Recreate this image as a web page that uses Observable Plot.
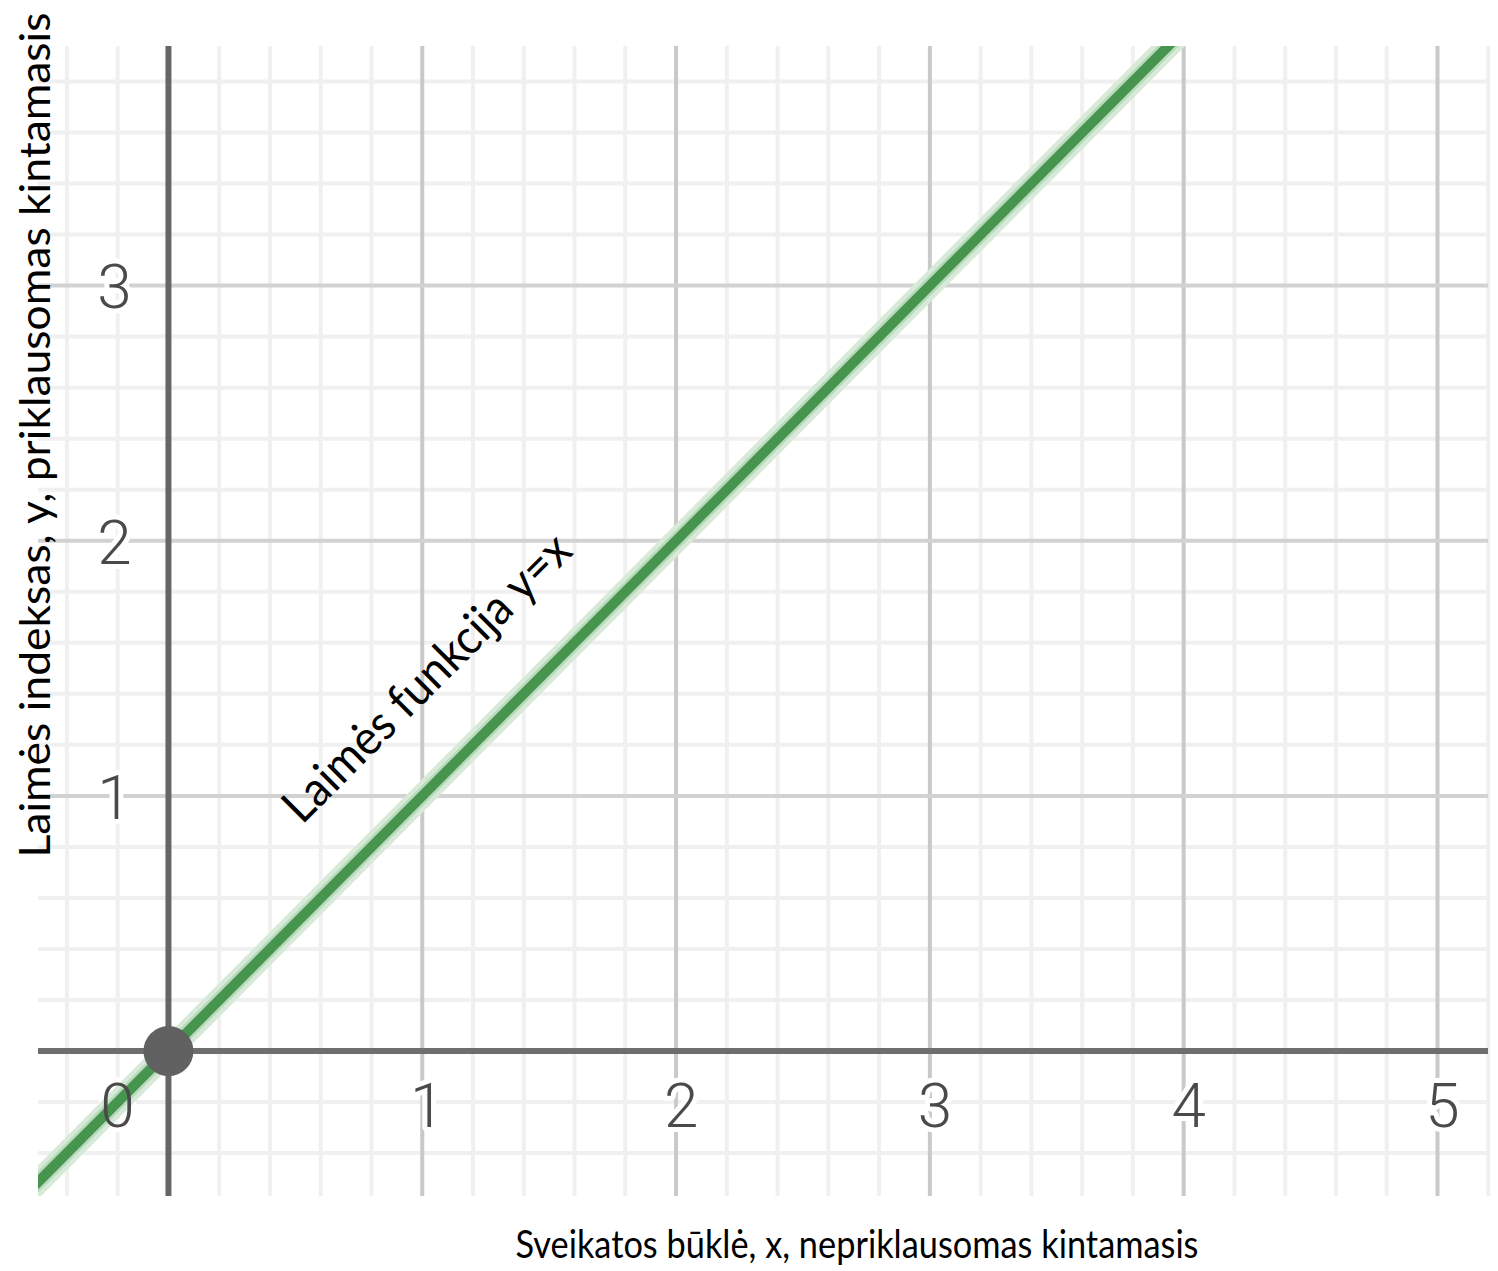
<!DOCTYPE html>
<html>
<head>
<meta charset="utf-8">
<script src="https://cdn.jsdelivr.net/npm/d3@7"></script>
<script src="https://cdn.jsdelivr.net/npm/@observablehq/plot@0.6"></script>
<style>
  html, body { margin: 0; padding: 0; background: #fff; }
  #chart svg { display: block; }
</style>
</head>
<body>
<div id="chart"></div>
<script>
// ---- data ----
const xMajor = [1, 2, 3, 4, 5];
const xMinor = [-0.4, -0.2, 0.2, 0.4, 0.6, 0.8, 1.2, 1.4, 1.6, 1.8, 2.2, 2.4, 2.6, 2.8,
                3.2, 3.4, 3.6, 3.8, 4.2, 4.4, 4.6, 4.8, 5.2];
const yMajor = [1, 2, 3];
const yMinor = [-0.4, -0.2, 0.2, 0.4, 0.6, 0.8, 1.2, 1.4, 1.6, 1.8, 2.2, 2.4, 2.6, 2.8,
                3.2, 3.4, 3.6, 3.8];
const xTickLabels = ["1", "2", "3", "4", "5"];
const yTickLabels = ["1", "2", "3"];
const originLabel = ["0"];
// y = x line (endpoints beyond the visible window, clipped)
const lineX = [-0.6, 4.0];
const lineY = [-0.6, 4.0];
const pointX = [0];
const pointY = [0];
const curveLabel = ["Laimės funkcija y=x"];
const xTitle = ["Sveikatos būklė, x, nepriklausomas kintamasis"];
const yTitle = ["Laimės indeksas, y, priklausomas kintamasis"];

const lineData = lineX.map((x, i) => ({x, y: lineY[i]}));
const pointData = pointX.map((x, i) => ({x, y: pointY[i]}));
const xTickData = xMajor.map((v, i) => ({v, label: xTickLabels[i]}));
const yTickData = yMajor.map((v, i) => ({v, label: yTickLabels[i]}));

const tickFont = {fontFamily: "Roboto", fontWeight: 300, fontSize: 62};

const tickMarks = (halo) => {
  const extra = halo ? {stroke: "white", strokeWidth: 10, fill: "white"} : {fill: "#4a4a4a"};
  return [
    Plot.text(xTickData, {x: "v", y: () => 0, text: "label", dx: 5, dy: 56, textAnchor: "middle", ...tickFont, ...extra}),
    Plot.text(yTickData, {x: () => 0, y: "v", text: "label", dx: -54, dy: 3, textAnchor: "middle", ...tickFont, ...extra}),
    Plot.text(originLabel, {x: () => 0, y: () => 0, text: d => d, dx: -51, dy: 56, textAnchor: "middle", ...tickFont, ...extra})
  ];
};

const chart = Plot.plot({
  width: 1498,
  height: 1271,
  marginLeft: 38,
  marginRight: 10,
  marginTop: 46,
  marginBottom: 75,
  x: {domain: [-0.512, 5.201], axis: null},
  y: {domain: [-0.57, 3.937], axis: null},
  style: {background: "white", fontFamily: "Lato, sans-serif"},
  marks: [
    Plot.ruleX(xMinor, {stroke: "#f0f0f0", strokeWidth: 4}),
    Plot.ruleY(yMinor, {stroke: "#f0f0f0", strokeWidth: 4}),
    Plot.ruleX(xMajor, {stroke: "#c9c9c9", strokeWidth: 4}),
    Plot.ruleY(yMajor, {stroke: "#d2d2d2", strokeWidth: 4}),
    Plot.ruleY([0], {stroke: "#6e6e6e", strokeWidth: 6}),
    Plot.ruleX([0], {stroke: "#666666", strokeWidth: 6}),
    ...tickMarks(true),
    Plot.line(lineData, {x: "x", y: "y", stroke: "#d6ead7", strokeWidth: 24, clip: true}),
    Plot.line(lineData, {x: "x", y: "y", stroke: "#b8d9bb", strokeWidth: 15, clip: true}),
    Plot.line(lineData, {x: "x", y: "y", stroke: "#46944e", strokeWidth: 10, clip: true}),
    ...tickMarks(false),
    Plot.dot(pointData, {x: "x", y: "y", r: 25, fill: "#616161", stroke: "none"}),
    Plot.text(curveLabel, {x: () => 1.02, y: () => 1.46, text: d => d, rotate: -45,
      textAnchor: "middle", fontSize: 48, fill: "black", fontFamily: "Lato"}),
    Plot.text(xTitle, {frameAnchor: "bottom-left", text: d => d, textAnchor: "start",
      dx: 477, dy: 61, fontSize: 38, fill: "black", fontFamily: "Lato"}),
    Plot.text(yTitle, {frameAnchor: "bottom-left", text: d => d, textAnchor: "start", rotate: -90,
      dx: 11, dy: -339, fontSize: 42, fill: "black", fontFamily: "Lato"})
  ]
});

// stretch titles to the reference widths
const lengths = new Map([[curveLabel[0], 385], [xTitle[0], 683], [yTitle[0], 845]]);
d3.select(chart).selectAll("text").each(function () {
  const t = this.textContent;
  if (lengths.has(t)) {
    this.setAttribute("textLength", lengths.get(t));
    this.setAttribute("lengthAdjust", "spacingAndGlyphs");
  }
});

document.getElementById("chart").appendChild(chart);
</script>
</body>
</html>
